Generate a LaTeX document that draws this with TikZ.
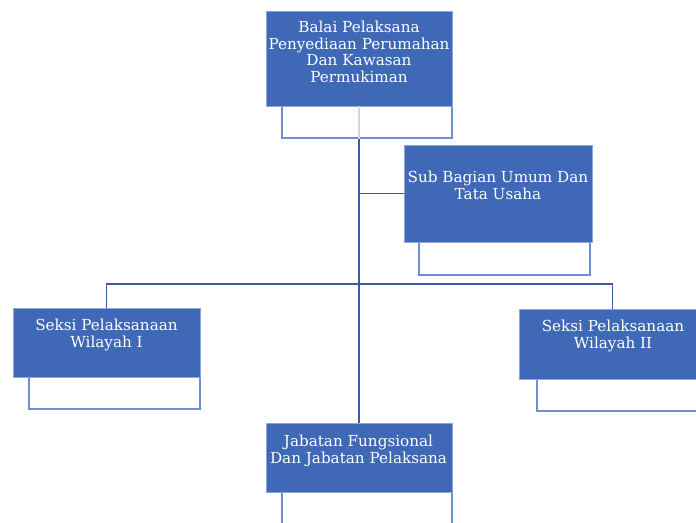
\documentclass[tikz,border=0pt]{standalone}
\usepackage{fontspec}
\setmainfont{DejaVu Serif}
\usepackage{tikz}
\usetikzlibrary{positioning}

\definecolor{unitblue}{HTML}{3F68B6}
\definecolor{edgeblue}{HTML}{8AA6DC}
\definecolor{lineblue}{HTML}{3A5BA0}
\definecolor{frameblue}{HTML}{6F8FD0}

\begin{document}
\begin{tikzpicture}[
    x=0.75pt, y=-0.75pt,
    unit/.style={rectangle, draw=edgeblue, fill=unitblue, line width=0.6pt, inner sep=0pt},
    under/.style={rectangle, draw=frameblue, fill=white, line width=1pt, inner sep=0pt},
    caption/.style={text=white, align=center, font=\fontsize{11.4}{12.4}\selectfont},
    link/.style={draw=lineblue, line width=1.1pt},
    faint/.style={draw=lineblue!25, line width=1pt}
]
\useasboundingbox (0,0) rectangle (696,522);
\clip (0,0) rectangle (696,522);

% connectors first
\coordinate (trunktop) at (359,106);
\coordinate (bus) at (359,284);
\node[inner sep=0pt, minimum width=0.75pt*186, minimum height=0.75pt*69] (jab) at (359,457.5) {};
\node[inner sep=0pt, minimum width=0.75pt*188, minimum height=0.75pt*97] (sub) at (498,193.5) {};
\node[inner sep=0pt, minimum width=0.75pt*187, minimum height=0.75pt*69] (s1) at (106.5,342.5) {};
\node[inner sep=0pt, minimum width=0.75pt*187, minimum height=0.75pt*70] (s2) at (612.5,344) {};

\draw[link] (trunktop) -- (jab.north);
\draw[link] (sub.west) -- (sub.west -| trunktop);
\draw[link] (s1.north) |- (bus) -| (s2.north);

% top unit
\node[under, minimum width=0.75pt*170, minimum height=0.75pt*52] (topw) at (367,112) {};
\node[unit, minimum width=0.75pt*186, minimum height=0.75pt*95] (top) at (359,58.5) {};
\draw[faint] (top.south) -- (top.south |- topw.south);
\node[caption] (toptxt) at (359,52) {Balai Pelaksana\\Penyediaan Perumahan\\Dan Kawasan\\Permukiman};

% sub bagian
\node[under, minimum width=0.75pt*171, minimum height=0.75pt*43] (subw) at (504.5,253.5) {};
\node[unit, minimum width=0.75pt*188, minimum height=0.75pt*97] at (sub) {};
\node[caption] (subtxt) at (498,185.5) {Sub Bagian Umum Dan\\Tata Usaha};

% seksi I
\node[under, minimum width=0.75pt*171, minimum height=0.75pt*42] (s1w) at (114.5,388) {};
\node[unit, minimum width=0.75pt*187, minimum height=0.75pt*69] at (s1) {};
\node[caption] (s1txt) at (106.5,335) {Seksi Pelaksanaan\\Wilayah I};

% seksi II
\node[under, minimum width=0.75pt*171, minimum height=0.75pt*42] (s2w) at (622.5,390) {};
\node[unit, minimum width=0.75pt*187, minimum height=0.75pt*70] at (s2) {};
\node[caption] (s2txt) at (613,336) {Seksi Pelaksanaan\\Wilayah II};

% jabatan
\node[under, minimum width=0.75pt*170, minimum height=0.75pt*58] (jabw) at (367,511) {};
\node[unit, minimum width=0.75pt*186, minimum height=0.75pt*69] at (jab) {};
\node[caption] (jabtxt) at (358.5,451) {Jabatan Fungsional\\Dan Jabatan Pelaksana};

\end{tikzpicture}
\end{document}
